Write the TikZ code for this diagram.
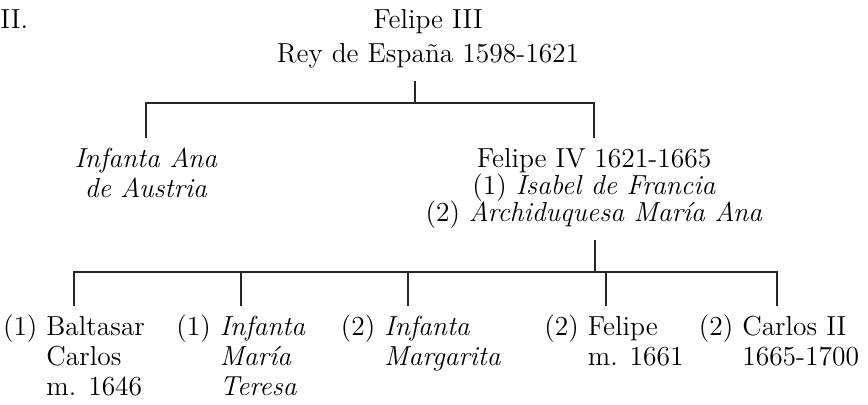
\documentclass[tikz,border=0pt]{standalone}
\usepackage{fontspec}
\usepackage{tikz}

\begin{document}
\begin{tikzpicture}[
    x=0.5pt,
    y=-0.5pt,
    font=\fontsize{13.75}{15}\selectfont,
    person/.style={
		inner sep=0pt,
		inner ysep=4.5pt,
		anchor=base
	},
	branch/.style={
		line width=0.75pt,
		draw=black!85
	}
  ]
  \useasboundingbox (0,0) rectangle (868,405);
    % We place the generations from top to bottom

  \node [person, anchor=base west] (part) at (0,29) {II.};

  \node [person] (felipe3) at (428,29)
 {%
 \begin{tabular}[t]{@{}c@{}}
  Felipe III\\[2pt]
  Rey de España 1598-1621
 \end{tabular}
 };

  \node [person] (ana) at (146,168)
 {%
 \begin{tabular}[t]{@{}c@{}}
  \textit{Infanta Ana}\\
  \textit{de Austria}
 \end{tabular}
 };

  \node [person] (felipe4) at (594,168)
 {%
 \begin{tabular}[t]{@{}c@{}}
  Felipe IV 1621-1665\\[-1.5pt]
  (1) \textit{Isabel de Francia}\\[-1.5pt]
  (2) \textit{Archiduquesa María Ana}
 \end{tabular}
 };

  % children of Felipe IV
  \node [person] (baltasar) at (74,336)
 {%
 \begin{tabular}[t]{@{}l@{\ }l@{}}
  (1) & Baltasar\\
      & Carlos\\
      & m. 1646
 \end{tabular}
 };

  \node [person] (teresa) at (241,336)
 {%
 \begin{tabular}[t]{@{}l@{\ }l@{}}
  (1) & \textit{Infanta}\\
      & \textit{María}\\
      & \textit{Teresa}
 \end{tabular}
 };

  \node [person] (margarita) at (421,336)
 {%
 \begin{tabular}[t]{@{}l@{\ }l@{}}
  (2) & \textit{Infanta}\\
      & \textit{Margarita}
 \end{tabular}
 };

  \node [person] (felipe) at (614,336)
 {%
 \begin{tabular}[t]{@{}l@{\ }l@{}}
  (2) & Felipe\\
      & m. 1661
 \end{tabular}
 };

  \node [person] (carlos) at (779,336)
 {%
 \begin{tabular}[t]{@{}l@{\ }l@{}}
  (2) & Carlos II\\
      & 1665-1700
 \end{tabular}
 };

  % the branches
  \coordinate (join1) at (415,103);
  \coordinate (join2) at (595,272);

  \draw [branch] (felipe3.south -| join1) -- (join1);
  \draw [branch] (ana.north) |- (join1) -| (felipe4.north);
  \draw [branch] (felipe4.south -| join2) -- (join2);
  \draw [branch] (baltasar.north) |- (join2) -| ([xshift=-1pt]carlos.north);
  \draw [branch] (teresa.north) -- (teresa.north |- join2);
  \draw [branch] ([xshift=-6.5pt]margarita.north) -- ([xshift=-6.5pt]margarita.north |- join2);
  \draw [branch] ([xshift=-4pt]felipe.north) -- ([xshift=-4pt]felipe.north |- join2);
\end{tikzpicture}
\end{document}
